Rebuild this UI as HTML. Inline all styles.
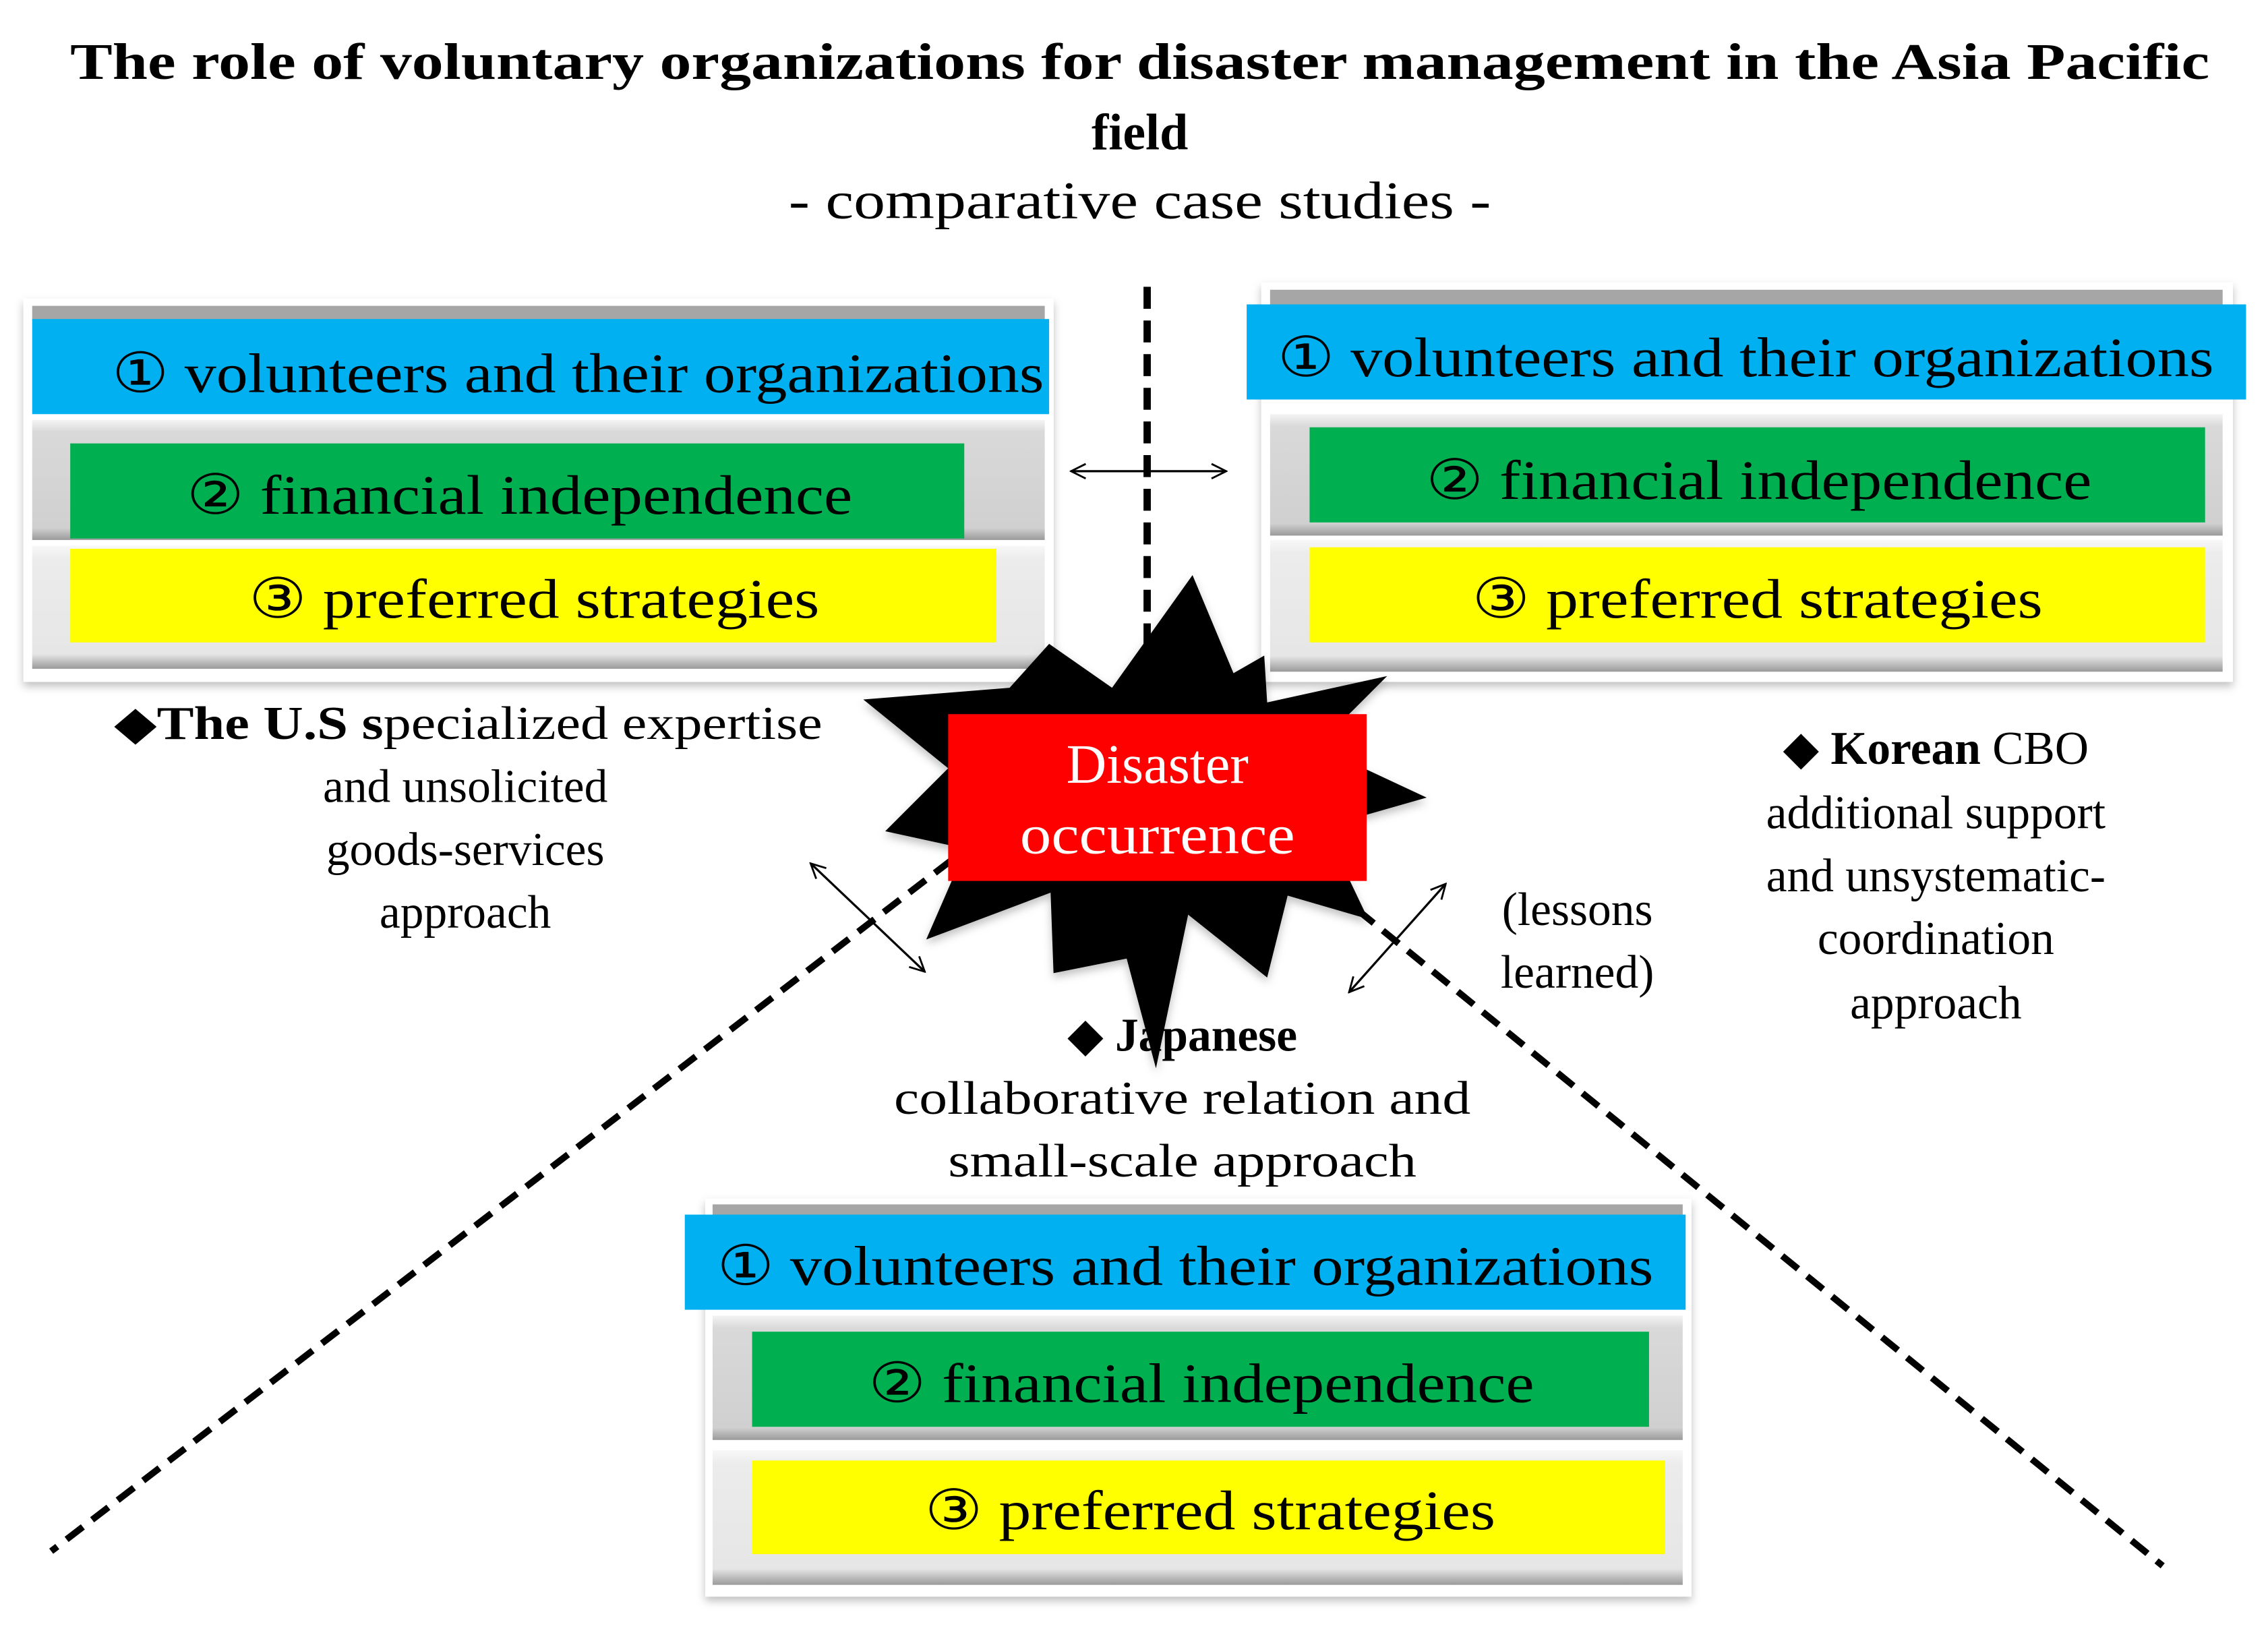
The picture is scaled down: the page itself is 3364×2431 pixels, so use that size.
<!DOCTYPE html>
<html><head><meta charset="utf-8"><style>
html,body{margin:0;padding:0;background:#fff;}
svg{display:block;}
text{font-family:"Liberation Serif","DejaVu Serif",serif;}
</style></head><body>
<svg width="3364" height="2431" viewBox="0 0 1550 1120" preserveAspectRatio="none" xmlns="http://www.w3.org/2000/svg">
<defs>
<filter id="sh" x="-5%" y="-5%" width="110%" height="115%"><feDropShadow dx="0" dy="3" stdDeviation="3" flood-color="#000" flood-opacity="0.25"/></filter>
<linearGradient id="bev" x1="0" y1="0" x2="0" y2="1"><stop offset="0" stop-color="#f4f4f4"/><stop offset="0.1" stop-color="#d9d9d9"/><stop offset="0.9" stop-color="#d0d0d0"/><stop offset="1" stop-color="#9a9a9a"/></linearGradient>
<linearGradient id="bev2" x1="0" y1="0" x2="0" y2="1"><stop offset="0" stop-color="#f8f8f8"/><stop offset="0.1" stop-color="#ececec"/><stop offset="0.88" stop-color="#e6e6e6"/><stop offset="1" stop-color="#9a9a9a"/></linearGradient>
<marker id="ah" viewBox="0 0 12 12" refX="11" refY="6" markerWidth="12" markerHeight="12" markerUnits="userSpaceOnUse" orient="auto-start-reverse"><path d="M1,1 L11,6 L1,11" fill="none" stroke="#000" stroke-width="1.3"/></marker>
</defs>

<!-- Title -->
<text x="779" y="54" font-size="35" font-weight="bold" text-anchor="middle" textLength="1462" lengthAdjust="spacingAndGlyphs">The role of voluntary organizations for disaster management in the Asia Pacific</text>
<text x="779" y="102" font-size="35" font-weight="bold" text-anchor="middle">field</text>
<text x="779" y="149" font-size="36" text-anchor="middle" textLength="480" lengthAdjust="spacingAndGlyphs">- comparative case studies -</text>

<!-- dashed vertical -->
<line x1="784" y1="196" x2="784" y2="450" stroke="#000" stroke-width="5" stroke-dasharray="15,8"/>
<!-- horizontal double arrow -->
<line x1="732" y1="322" x2="838" y2="322" stroke="#000" stroke-width="1.5" marker-start="url(#ah)" marker-end="url(#ah)"/>

<!-- diagonals -->
<line x1="650" y1="588" x2="35" y2="1060" stroke="#000" stroke-width="4.5" stroke-dasharray="14,8"/>
<line x1="928" y1="622" x2="1478" y2="1070" stroke="#000" stroke-width="4.5" stroke-dasharray="14,8"/>

<!-- Left panel -->
<g filter="url(#sh)"><rect x="16" y="204" width="704" height="262" fill="#fff"/></g>
<rect x="22" y="209" width="692" height="10" fill="#a6a6a6"/>
<rect x="22" y="287" width="692" height="82" fill="url(#bev)"/>
<rect x="22" y="373" width="692" height="84" fill="url(#bev2)"/>
<rect x="22" y="218" width="695" height="65" fill="#00b0f0"/>
<rect x="48" y="303" width="611" height="65" fill="#00b050"/>
<rect x="48" y="375" width="633" height="64" fill="#ffff00"/>
<text x="395" y="268" font-size="38" text-anchor="middle" textLength="637" lengthAdjust="spacingAndGlyphs">① volunteers and their organizations</text>
<text x="355" y="351" font-size="38" text-anchor="middle" textLength="455" lengthAdjust="spacingAndGlyphs">② financial independence</text>
<text x="365" y="422" font-size="38" text-anchor="middle" textLength="390" lengthAdjust="spacingAndGlyphs">③ preferred strategies</text>

<!-- Right panel -->
<g filter="url(#sh)"><rect x="862" y="193" width="664" height="273" fill="#fff"/></g>
<rect x="868" y="198" width="651" height="11" fill="#a6a6a6"/>
<rect x="868" y="283" width="651" height="83" fill="url(#bev)"/>
<rect x="868" y="369" width="651" height="90" fill="url(#bev2)"/>
<rect x="852" y="208" width="683" height="65" fill="#00b0f0"/>
<rect x="895" y="292" width="612" height="65" fill="#00b050"/>
<rect x="895" y="374" width="612" height="65" fill="#ffff00"/>
<text x="1193" y="257" font-size="38" text-anchor="middle" textLength="640" lengthAdjust="spacingAndGlyphs">① volunteers and their organizations</text>
<text x="1202" y="341" font-size="38" text-anchor="middle" textLength="455" lengthAdjust="spacingAndGlyphs">② financial independence</text>
<text x="1201" y="422" font-size="38" text-anchor="middle" textLength="390" lengthAdjust="spacingAndGlyphs">③ preferred strategies</text>

<!-- Bottom panel -->
<g filter="url(#sh)"><rect x="482" y="819" width="674" height="272" fill="#fff"/></g>
<rect x="487" y="823" width="663" height="9" fill="#a6a6a6"/>
<rect x="487" y="899" width="663" height="85" fill="url(#bev)"/>
<rect x="487" y="991" width="663" height="92" fill="url(#bev2)"/>
<rect x="468" y="830" width="684" height="65" fill="#00b0f0"/>
<rect x="514" y="910" width="613" height="65" fill="#00b050"/>
<rect x="514" y="998" width="624" height="64" fill="#ffff00"/>
<text x="810" y="878" font-size="38" text-anchor="middle" textLength="640" lengthAdjust="spacingAndGlyphs">① volunteers and their organizations</text>
<text x="821" y="958" font-size="38" text-anchor="middle" textLength="455" lengthAdjust="spacingAndGlyphs">② financial independence</text>
<text x="827" y="1045" font-size="38" text-anchor="middle" textLength="390" lengthAdjust="spacingAndGlyphs">③ preferred strategies</text>

<!-- starburst -->
<g filter="url(#sh)">
<polygon fill="#000" points="815,393 843,460 864,448 866,480 948,462 900,510 975,545 905,565 935,628 880,612 866,668 812,625 790,730 770,655 720,665 718,610 633,642 660,580 605,568 648,525 590,478 690,470 717,440 760,470"/>
</g>
<rect x="648" y="488" width="286" height="114" fill="#ff0000"/>
<text x="791" y="535" font-size="38" fill="#fff" text-anchor="middle">Disaster</text>
<text x="791" y="583" font-size="38" fill="#fff" text-anchor="middle" textLength="188" lengthAdjust="spacingAndGlyphs">occurrence</text>

<!-- diagonal double arrows -->
<line x1="554" y1="590" x2="632" y2="664" stroke="#000" stroke-width="1.5" marker-start="url(#ah)" marker-end="url(#ah)"/>
<line x1="922" y1="678" x2="988" y2="604" stroke="#000" stroke-width="1.5" marker-start="url(#ah)" marker-end="url(#ah)"/>

<!-- US text -->
<text x="78" y="505" font-size="32" textLength="484" lengthAdjust="spacingAndGlyphs">◆<tspan font-weight="bold">The U.S s</tspan>pecialized  expertise</text>
<text x="318" y="548" font-size="32" text-anchor="middle">and unsolicited</text>
<text x="318" y="591" font-size="32" text-anchor="middle">goods-services</text>
<text x="318" y="634" font-size="32" text-anchor="middle">approach</text>

<!-- Korean text -->
<text x="1323" y="522" font-size="32" text-anchor="middle">◆ <tspan font-weight="bold">Korean</tspan> CBO</text>
<text x="1323" y="566" font-size="32" text-anchor="middle">additional  support</text>
<text x="1323" y="609" font-size="32" text-anchor="middle">and unsystematic-</text>
<text x="1323" y="652" font-size="32" text-anchor="middle">coordination</text>
<text x="1323" y="696" font-size="32" text-anchor="middle">approach</text>

<!-- lessons learned -->
<text x="1078" y="632" font-size="32" text-anchor="middle">(lessons</text>
<text x="1078" y="675" font-size="32" text-anchor="middle">learned)</text>

<!-- Japanese text -->
<text x="808" y="718" font-size="32" text-anchor="middle">◆ <tspan font-weight="bold">Japanese</tspan></text>
<text x="808" y="761" font-size="32" text-anchor="middle" textLength="394" lengthAdjust="spacingAndGlyphs">collaborative  relation  and</text>
<text x="808" y="804" font-size="32" text-anchor="middle" textLength="320" lengthAdjust="spacingAndGlyphs">small-scale  approach</text>
</svg>
</body></html>
